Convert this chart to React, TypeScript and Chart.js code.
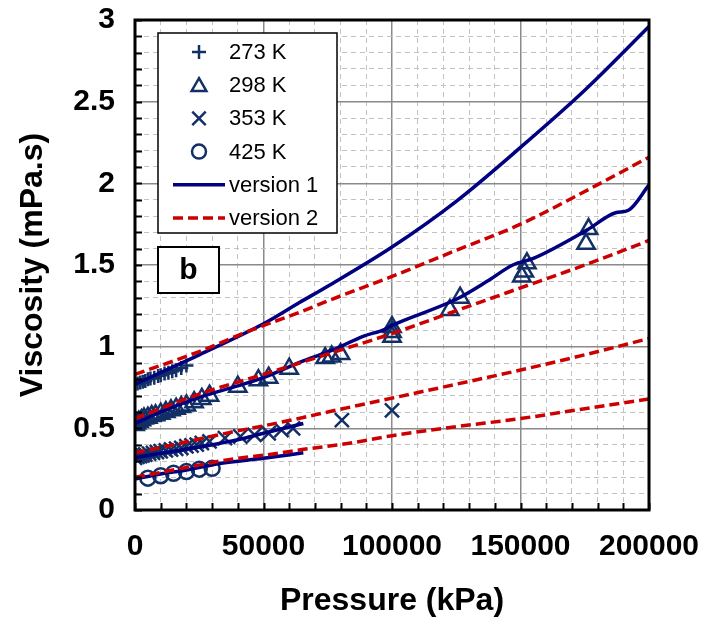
import React, { useEffect, useRef } from 'react';
import { Chart, registerables } from 'chart.js';

Chart.register(...registerables);

// ---------- data (pressure in kPa, viscosity in mPa.s) ----------
const p273 = [0, 1000, 2000, 3000, 4000, 5000, 6000, 7500, 9000, 10000, 11500, 13000, 14500, 16000, 18000, 20000];
const v273 = [0.77, 0.775, 0.78, 0.785, 0.79, 0.8, 0.805, 0.81, 0.82, 0.825, 0.835, 0.84, 0.85, 0.855, 0.87, 0.885];

const p298 = [0, 500, 1500, 2500, 3500, 5000, 6500, 8000, 10000, 12000, 14000, 16000, 18000, 20000, 23000, 26000, 29000, 40000, 48000, 52000, 60000, 74000, 76500, 80000, 100000, 100000, 100000, 122500, 126500, 150500, 151500, 152500, 175500, 176500];
const v298 = [0.52, 0.53, 0.54, 0.55, 0.56, 0.565, 0.575, 0.58, 0.59, 0.6, 0.61, 0.62, 0.63, 0.64, 0.66, 0.68, 0.7, 0.755, 0.795, 0.81, 0.865, 0.93, 0.94, 0.955, 1.06, 1.09, 1.12, 1.225, 1.3, 1.43, 1.46, 1.51, 1.63, 1.72];

const p353 = [0, 1000, 2000, 3000, 4000, 5500, 7000, 8500, 10000, 12000, 14000, 16000, 18000, 20000, 22000, 24000, 26000, 29000, 35000, 41000, 46500, 52000, 57000, 61500, 80500, 100000];
const v353 = [0.32, 0.325, 0.33, 0.335, 0.34, 0.345, 0.35, 0.355, 0.36, 0.365, 0.37, 0.375, 0.38, 0.39, 0.395, 0.4, 0.41, 0.42, 0.44, 0.45, 0.46, 0.47, 0.49, 0.5, 0.55, 0.61];

const p425 = [5000, 10000, 15000, 20000, 25000, 30000];
const v425 = [0.195, 0.21, 0.225, 0.235, 0.25, 0.255];

// version 1 model curves
const v1p273 = [0, 25000, 50000, 64000, 75000, 100000, 125000, 150000, 175000, 200000];
const v1v273 = [0.77, 0.95, 1.14, 1.27, 1.37, 1.61, 1.89, 2.22, 2.57, 2.96];
const v1p298 = [0, 10000, 25000, 40000, 50000, 65000, 77000, 89000, 97000, 100000, 125000, 137000, 147000, 155000, 176000, 187000, 192000, 200000];
const v1v298 = [0.53, 0.6, 0.69, 0.76, 0.81, 0.91, 0.98, 1.065, 1.105, 1.13, 1.29, 1.4, 1.5, 1.54, 1.715, 1.82, 1.835, 1.99];
const v1p353 = [0, 13000, 26600, 40000, 50000, 65500];
const v1v353 = [0.32, 0.355, 0.39, 0.43, 0.47, 0.53];
const v1p425 = [0, 10000, 20000, 33000, 50000, 65500];
const v1v425 = [0.19, 0.22, 0.245, 0.285, 0.317, 0.35];

// version 2 model curves
const v2p273 = [0, 25000, 45000, 64000, 75000, 100000, 125000, 150000, 175000, 200000];
const v2v273 = [0.83, 0.97, 1.1, 1.21, 1.28, 1.43, 1.59, 1.75, 1.95, 2.16];
const v2p298 = [0, 25000, 50000, 64000, 77000, 100000, 125000, 150000, 175000, 200000];
const v2v298 = [0.56, 0.71, 0.83, 0.9, 0.965, 1.08, 1.22, 1.36, 1.5, 1.65];
const v2p353 = [0, 15000, 28000, 37000, 50000, 65000, 75000, 100000, 125000, 150000, 175000, 200000];
const v2v353 = [0.35, 0.4, 0.445, 0.475, 0.515, 0.565, 0.6, 0.685, 0.77, 0.857, 0.95, 1.05];
const v2p425 = [0, 20000, 37000, 50000, 65000, 84000, 100000, 125000, 150000, 175000, 200000];
const v2v425 = [0.2, 0.26, 0.31, 0.335, 0.37, 0.41, 0.455, 0.51, 0.56, 0.62, 0.68];

const legendLabels = ['273 K', '298 K', '353 K', '425 K', 'version 1', 'version 2'];
const xTitle = 'Pressure (kPa)';
const yTitle = 'Viscosity (mPa.s)';
const panelLabel = 'b';

// ---------- styles ----------
const MARKER = '#122f66';
const V1 = '#000080';
const V2 = '#cc0000';
const FONT = "'Liberation Sans', Arial, sans-serif";

const pts = (xs: number[], ys: number[]) => xs.map((x, i) => ({ x, y: ys[i] }));

const isMajorX = (v: number) => Math.abs(v / 50000 - Math.round(v / 50000)) < 1e-6;
const isMajorY = (v: number) => Math.abs(v * 2 - Math.round(v * 2)) < 1e-6;

function markerSet(label: string, xs: number[], ys: number[], style: string, r: number) {
  return {
    label,
    data: pts(xs, ys),
    pointStyle: style,
    pointRadius: r,
    pointHoverRadius: r,
    pointBorderWidth: 2.5,
    borderColor: MARKER,
    pointBorderColor: MARKER,
    backgroundColor: 'rgba(0,0,0,0)',
    pointBackgroundColor: 'rgba(0,0,0,0)',
    showLine: false,
    order: 2,
  };
}

function lineSet(label: string, xs: number[], ys: number[], color: string, dash: number[], order: number) {
  return {
    label,
    data: pts(xs, ys),
    showLine: true,
    borderColor: color,
    borderWidth: 3.5,
    borderDash: dash,
    pointRadius: 0,
    pointHoverRadius: 0,
    fill: false,
    cubicInterpolationMode: 'monotone',
    order,
  };
}

function drawMarker(ctx: CanvasRenderingContext2D, style: string, x: number, y: number, r: number) {
  ctx.beginPath();
  if (style === 'cross') {
    ctx.moveTo(x - r, y); ctx.lineTo(x + r, y);
    ctx.moveTo(x, y - r); ctx.lineTo(x, y + r);
  } else if (style === 'crossRot') {
    const o = r * Math.SQRT1_2;
    ctx.moveTo(x - o, y - o); ctx.lineTo(x + o, y + o);
    ctx.moveTo(x + o, y - o); ctx.lineTo(x - o, y + o);
  } else if (style === 'triangle') {
    let a = 0;
    ctx.moveTo(x + Math.sin(a) * r, y - Math.cos(a) * r);
    a += (2 * Math.PI) / 3;
    ctx.lineTo(x + Math.sin(a) * r, y - Math.cos(a) * r);
    a += (2 * Math.PI) / 3;
    ctx.lineTo(x + Math.sin(a) * r, y - Math.cos(a) * r);
    ctx.closePath();
  } else {
    ctx.arc(x, y, r, 0, Math.PI * 2);
  }
  ctx.stroke();
}

const decorPlugin = {
  id: 'decor',
  afterDraw(chart: any) {
    const { ctx, chartArea: a, scales } = chart;
    const xs = scales.x;
    const ys = scales.y;
    ctx.save();
    // inward tick marks
    ctx.strokeStyle = '#000';
    ctx.lineWidth = 2;
    ctx.setLineDash([]);
    ys.ticks.forEach((t: any) => {
      const py = Math.round(ys.getPixelForValue(t.value)) + 0.5;
      ctx.beginPath();
      ctx.moveTo(a.left, py);
      ctx.lineTo(a.left + 7, py);
      ctx.stroke();
    });
    xs.ticks.forEach((t: any) => {
      const px = Math.round(xs.getPixelForValue(t.value)) + 0.5;
      ctx.beginPath();
      ctx.moveTo(px, a.bottom);
      ctx.lineTo(px, a.bottom - 7);
      ctx.stroke();
    });
    // frame
    ctx.lineWidth = 3;
    ctx.strokeRect(a.left, a.top, a.right - a.left, a.bottom - a.top);

    // legend box
    const lx = 158, ly = 33, lw = 179, lh = 200;
    ctx.fillStyle = '#fff';
    ctx.fillRect(lx, ly, lw, lh);
    ctx.lineWidth = 1.5;
    ctx.strokeStyle = '#000';
    ctx.strokeRect(lx, ly, lw, lh);
    const ds = chart.data.datasets;
    const entries = [ds[0], ds[1], ds[2], ds[3], ds[4], ds[8]];
    ctx.font = `22px ${FONT}`;
    ctx.textBaseline = 'middle';
    ctx.textAlign = 'left';
    entries.forEach((d: any, i: number) => {
      const cy = 52 + i * 33.2;
      if (d.showLine) {
        ctx.strokeStyle = d.borderColor;
        ctx.lineWidth = d.borderWidth;
        ctx.setLineDash(d.borderDash || []);
        ctx.beginPath();
        ctx.moveTo(173, cy);
        ctx.lineTo(225, cy);
        ctx.stroke();
        ctx.setLineDash([]);
      } else {
        ctx.strokeStyle = d.pointBorderColor;
        ctx.lineWidth = 2.5;
        const r = d.pointStyle === 'triangle' ? 8.5 : d.pointStyle === 'crossRot' ? 9.5 : 7;
        drawMarker(ctx, d.pointStyle, 199, d.pointStyle === 'triangle' ? cy + 1.5 : cy, r);
      }
      ctx.fillStyle = '#000';
      ctx.fillText(legendLabels[i], 229, cy + 1);
    });

    // panel label box
    ctx.fillStyle = '#fff';
    ctx.fillRect(158, 247, 61, 46);
    ctx.lineWidth = 2;
    ctx.strokeStyle = '#000';
    ctx.strokeRect(158, 247, 61, 46);
    ctx.fillStyle = '#000';
    ctx.font = `bold 30px ${FONT}`;
    ctx.textAlign = 'center';
    ctx.textBaseline = 'middle';
    ctx.fillText(panelLabel, 188.5, 271);
    ctx.restore();
  },
};

export default function App() {
  const ref = useRef<HTMLCanvasElement>(null);

  useEffect(() => {
    if (!ref.current) return;
    const chart = new Chart(ref.current, {
      type: 'scatter',
      data: {
        datasets: [
          markerSet(legendLabels[0], p273, v273, 'cross', 7),
          markerSet(legendLabels[1], p298, v298, 'triangle', 10),
          markerSet(legendLabels[2], p353, v353, 'crossRot', 10),
          markerSet(legendLabels[3], p425, v425, 'circle', 7.5),
          lineSet(legendLabels[4], v1p273, v1v273, V1, [], 1),
          lineSet(legendLabels[4], v1p298, v1v298, V1, [], 1),
          lineSet(legendLabels[4], v1p353, v1v353, V1, [], 1),
          lineSet(legendLabels[4], v1p425, v1v425, V1, [], 1),
          lineSet(legendLabels[5], v2p273, v2v273, V2, [10, 5], 0),
          lineSet(legendLabels[5], v2p298, v2v298, V2, [10, 5], 0),
          lineSet(legendLabels[5], v2p353, v2v353, V2, [10, 5], 0),
          lineSet(legendLabels[5], v2p425, v2v425, V2, [10, 5], 0),
        ] as any,
      },
      options: {
        animation: false,
        responsive: false,
        devicePixelRatio: 1,
        layout: { padding: { left: 0, right: 53, top: 20, bottom: 0 } },
        plugins: { legend: { display: false }, tooltip: { enabled: false } },
        scales: {
          x: {
            type: 'linear',
            min: 0,
            max: 200000,
            ticks: {
              stepSize: 10000,
              autoSkip: false,
              maxRotation: 0,
              padding: 19,
              color: '#000',
              font: { family: FONT, size: 30, weight: 'bold' },
              callback: (v: any) => (isMajorX(Number(v)) ? String(Math.round(Number(v))) : ''),
            },
            grid: {
              drawTicks: false,
              color: (c: any) => (isMajorX(c.tick.value) ? '#8a8a8a' : '#c2c2c2'),
              lineWidth: (c: any) => (isMajorX(c.tick.value) ? 1.5 : 1),
            },
            border: {
              display: false,
              dash: (c: any) => (c.tick && isMajorX(c.tick.value) ? [] : [5, 4]),
            },
            title: {
              display: true,
              text: xTitle,
              color: '#000',
              font: { family: FONT, size: 32, weight: 'bold', lineHeight: 1.2 },
              padding: { top: 0, bottom: 0 },
            },
            afterFit: (s: any) => {
              s.height = 110;
              s.paddingLeft = 0;
              s.paddingRight = 0;
            },
          },
          y: {
            type: 'linear',
            min: 0,
            max: 3,
            ticks: {
              stepSize: 0.1,
              autoSkip: false,
              padding: 20,
              color: '#000',
              font: { family: FONT, size: 30, weight: 'bold' },
              callback: (v: any) => (isMajorY(Number(v)) ? String(Math.round(Number(v) * 10) / 10) : ''),
            },
            grid: {
              drawTicks: false,
              color: (c: any) => (isMajorY(c.tick.value) ? '#8a8a8a' : '#c2c2c2'),
              lineWidth: (c: any) => (isMajorY(c.tick.value) ? 1.5 : 1),
            },
            border: {
              display: false,
              dash: (c: any) => (c.tick && isMajorY(c.tick.value) ? [] : [5, 4]),
            },
            title: {
              display: true,
              text: yTitle,
              color: '#000',
              font: { family: FONT, size: 32, weight: 'bold', lineHeight: 1.2 },
              padding: { top: 14, bottom: 0 },
            },
            afterFit: (s: any) => {
              s.width = 135;
              s.paddingTop = 0;
              s.paddingBottom = 0;
            },
          },
        },
      } as any,
      plugins: [decorPlugin],
    });
    return () => chart.destroy();
  }, []);

  return (
    <div style={{ position: 'absolute', left: 0, top: 0, width: 702, height: 620, background: '#fff' }}>
      <canvas ref={ref} width={702} height={620} style={{ display: 'block', width: 702, height: 620 }} />
    </div>
  );
}
